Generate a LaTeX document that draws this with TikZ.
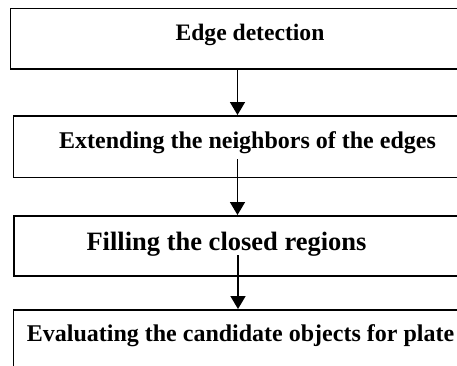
\documentclass[tikz,border=0pt]{standalone}
\usepackage{fontspec}
\setmainfont{Liberation Serif}
\usetikzlibrary{arrows.meta}
\tikzset{
  boxframe/.style={draw=black, line width=1.9pt, rectangle, inner sep=0pt, anchor=north west},
  label24/.style={font=\fontsize{24}{28}\selectfont\bfseries, anchor=base, inner sep=0pt},
  label26/.style={font=\fontsize{26.5}{30}\selectfont\bfseries, anchor=base, inner sep=0pt},
  flowarrow/.style={draw=black, line width=1.7pt, -{Triangle[width=15pt,length=13pt]}},
}
\begin{document}
\begin{tikzpicture}[x=1pt,y=-1pt]
\useasboundingbox (0,0) rectangle (457,365);
\clip (0,0) rectangle (457,365);
\node[boxframe, minimum width=460pt, minimum height=60.5pt] (b1) at (9.5,7.5) {};
\node[boxframe, minimum width=460pt, minimum height=61.5pt] (b2) at (12.5,115) {};
\node[boxframe, minimum width=460pt, minimum height=60pt] (b3) at (13,215) {};
\node[boxframe, minimum width=460pt, minimum height=70pt] (b4) at (12.5,309) {};
\node[label24, font=\fontsize{23.6}{28}\selectfont\bfseries] (t1) at (250,40) {Edge detection};
\node[label24] (t2) at (247.5,148) {Extending the neighbors of the edges};
\node[label26] (t3) at (226.5,250) {Filling the closed regions};
\node[label24] (t4) at (240.5,341) {Evaluating the candidate objects for plate};
\coordinate (a1s) at (237.5,68);
\coordinate (a2s) at (237.5,159);
\coordinate (a3s) at (238,255);
\draw[flowarrow] (a1s) -- (a1s |- b2.north);
\draw[flowarrow] (a2s) -- (a2s |- b3.north);
\draw[flowarrow] (a3s) -- (a3s |- b4.north);
\end{tikzpicture}
\end{document}
